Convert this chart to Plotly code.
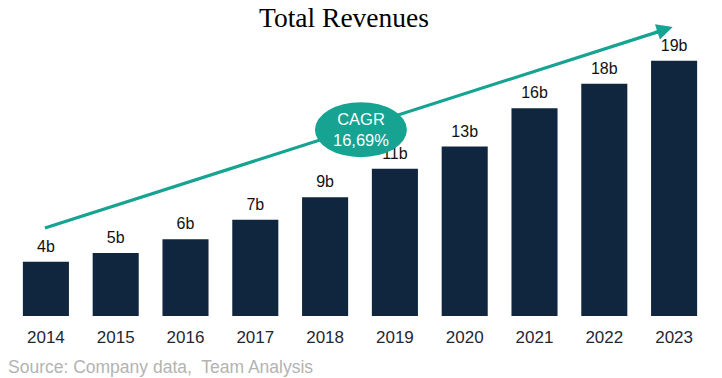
import plotly.graph_objects as go

years = ["2014", "2015", "2016", "2017", "2018", "2019", "2020", "2021", "2022", "2023"]
revenues = [4.13, 4.79, 5.84, 7.31, 9.03, 11.19, 12.88, 15.8, 17.65, 19.4]
labels = ["4b", "5b", "6b", "7b", "9b", "11b", "13b", "16b", "18b", "19b"]
title_text = "Total Revenues"
cagr_text = "CAGR<br>16,69%"
source_text = "Source: Company data,  Team Analysis"

NAVY = "#10263f"
TEAL = "#16a391"
SANS = "Arial, Liberation Sans, sans-serif"

xpos = list(range(len(years)))

fig = go.Figure()
fig.add_trace(go.Bar(x=xpos, y=revenues, marker=dict(color=NAVY, line=dict(width=0)),
                     hoverinfo="skip"))
# value labels (as trace text so the CAGR ellipse can sit on top of them)
fig.add_trace(go.Scatter(x=xpos, y=revenues, mode="markers+text", text=labels,
                         textposition="top center",
                         marker=dict(size=8, opacity=0),
                         textfont=dict(family=SANS, size=16, color="#111111"),
                         hoverinfo="skip", cliponaxis=False))

ann = []
# arrow (line as shape so that the ellipse covers it)
x0, y0 = -0.014, 6.69
x1, y1 = 8.98, 21.96
shapes = [
    dict(type="line", xref="x", yref="y", x0=x0, y0=y0,
         x1=x0 + (x1 - x0) * 0.985, y1=y0 + (y1 - y0) * 0.985,
         line=dict(color=TEAL, width=3.2), layer="above"),
    dict(type="circle", xref="x", yref="y", x0=3.854, x1=5.172, y0=12.07, y1=16.25,
         fillcolor=TEAL, line=dict(color=TEAL, width=0), layer="above"),
]
ann.append(dict(x=x1, y=y1, xref="x", yref="y", ax=-19, ay=6, showarrow=True,
                arrowhead=2, arrowsize=1, arrowwidth=3.2, arrowcolor=TEAL, text=""))
ann.append(dict(x=4.513, y=14.16, xref="x", yref="y", text=cagr_text, showarrow=False,
                font=dict(family=SANS, size=16.5, color="white")))
ann.append(dict(x=-5 / 698, y=-0.171, xref="paper", yref="paper", xanchor="left",
                yanchor="middle", text=source_text, showarrow=False,
                font=dict(family=SANS, size=17.5, color="#b3b3b3")))

fig.update_layout(
    width=722, height=378,
    margin=dict(l=11, r=13, t=20, b=62),
    paper_bgcolor="white", plot_bgcolor="white",
    bargap=0.34,
    showlegend=False,
    title=dict(text=title_text, x=344 / 722, xanchor="center", y=1 - 17 / 378,
               yanchor="middle",
               font=dict(family="Times New Roman, Liberation Serif, serif", size=27.5,
                         color="black")),
    xaxis=dict(range=[-0.5, len(years) - 0.5], tickmode="array", tickvals=xpos,
               ticktext=years, showgrid=False, showline=False, zeroline=False,
               ticks="", tickfont=dict(family=SANS, size=17, color="#1f2733"),
               ticklabelstandoff=9, fixedrange=True),
    yaxis=dict(range=[0, 22.5], visible=False, fixedrange=True),
    shapes=shapes,
    annotations=ann,
)

fig.write_html("out.html", config={"displayModeBar": False},
               post_script="document.body.style.margin='0px';document.body.style.overflow='hidden';")
